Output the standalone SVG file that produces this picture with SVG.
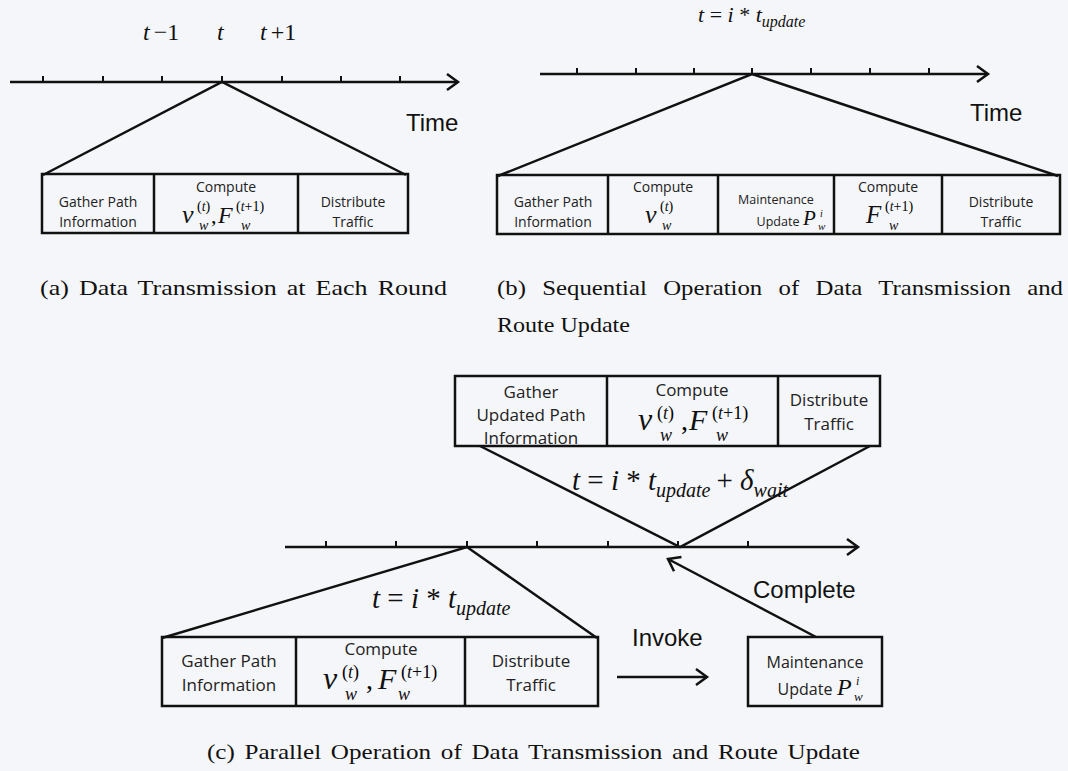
<svg xmlns="http://www.w3.org/2000/svg" width="1068" height="771" viewBox="0 0 1068 771">
  <style>
    .ln { stroke: #111; stroke-width: 2.5; fill: none; }
    .tk { stroke: #111; stroke-width: 2; }
    .box { fill: none; stroke: #111; stroke-width: 2.5; }
    .lbl { font-family: "Open Sans", "Noto Sans", sans-serif; fill: #222; text-anchor: middle; }
    .sans { font-family: "Liberation Sans", Arial, sans-serif; fill: #111; }
    .mi { font-family: "Liberation Serif", "Times New Roman", serif; font-style: italic; fill: #111; }
    .mr { font-family: "Liberation Serif", "Times New Roman", serif; font-style: normal; }
    .cap { font-family: "Liberation Serif", "Times New Roman", serif; fill: #111; font-size: 22px; }
  </style>
  <defs>
    <marker id="chev" markerUnits="userSpaceOnUse" markerWidth="16" markerHeight="20" refX="13" refY="10" orient="auto">
      <path d="M2,2 L13,10 L2,18" fill="none" stroke="#111" stroke-width="2.5"/>
    </marker>
  </defs>
  <rect width="1068" height="771" fill="#f5f6f9"/>

  <!-- connectors: time axes, zoom-out lines and flow arrows -->
  <g id="connectors">
    <!-- (a) axis -->
    <line class="ln" x1="10" y1="82" x2="458" y2="82" marker-end="url(#chev)"/>
    <path class="tk" d="M43,76V82 M103,76V82 M162,76V82 M222,76V82 M282,76V82 M341,76V82 M400,76V82"/>
    <polyline class="ln" points="43,175 222,82 406,175"/>
    <!-- (b) axis -->
    <line class="ln" x1="540" y1="74" x2="988" y2="74" marker-end="url(#chev)"/>
    <path class="tk" d="M577,68V74 M636,68V74 M694,68V74 M752,68V74 M811,68V74 M870,68V74 M929,68V74"/>
    <polyline class="ln" points="498,176 752,74 1058,176"/>
    <!-- (c) axis -->
    <line class="ln" x1="285" y1="547" x2="858" y2="547" marker-end="url(#chev)"/>
    <path class="tk" d="M326,541V547 M396,541V547 M467,541V547 M537,541V547 M608,541V547 M678,541V547 M748,541V547"/>
    <polyline class="ln" points="480,446 680,547 870,446"/>
    <polyline class="ln" points="162,638 467,547 597,638"/>
    <!-- invoke / complete -->
    <line class="ln" x1="617" y1="677" x2="707" y2="677" marker-end="url(#chev)"/>
    <line class="ln" x1="816" y1="637" x2="668" y2="559" marker-end="url(#chev)"/>
  </g>

  <!-- (a) time labels -->
  <g id="a-labels">
    <text class="mi" x="143" y="40" font-size="24">t<tspan class="mr" dx="4">−1</tspan></text>
    <text class="mi" x="217" y="40" font-size="24">t</text>
    <text class="mi" x="260" y="40" font-size="24">t<tspan class="mr" dx="4">+1</tspan></text>
    <text class="sans" x="406" y="131" font-size="24">Time</text>
  </g>

  <!-- (a) round stages -->
  <g id="a-stages">
    <rect class="box" x="42" y="174" width="366" height="59"/>
    <line class="box" x1="154" y1="174" x2="154" y2="233"/>
    <line class="box" x1="298" y1="174" x2="298" y2="233"/>
    <text class="lbl" font-size="14" x="98" y="207">Gather Path</text>
    <text class="lbl" font-size="14" x="98" y="227">Information</text>
    <text class="lbl" font-size="14" x="226" y="192">Compute</text>
    <text class="mi" x="182" y="223" font-size="26">ν</text>
    <text class="mr" x="197" y="211" font-size="14">(<tspan class="mi">t</tspan>)</text>
    <text class="mi" x="199" y="230" font-size="14">w</text>
    <text class="mr" x="211" y="223" font-size="22">,</text>
    <text class="mi" x="218" y="223" font-size="24">F</text>
    <text class="mr" x="236" y="211" font-size="14">(<tspan class="mi">t</tspan>+1)</text>
    <text class="mi" x="241" y="230" font-size="14">w</text>
    <text class="lbl" font-size="14" x="353" y="207">Distribute</text>
    <text class="lbl" font-size="14" x="353" y="227">Traffic</text>
  </g>

  <!-- (b) time labels -->
  <g id="b-labels">
    <text class="mi" x="698" y="22" font-size="22">t <tspan class="mr">=</tspan> i <tspan class="mr">*</tspan> t<tspan font-size="16" dy="5">update</tspan></text>
    <text class="sans" x="970" y="121" font-size="24">Time</text>
  </g>

  <!-- (b) sequential stages -->
  <g id="b-stages">
    <rect class="box" x="497" y="175" width="563" height="59"/>
    <line class="box" x1="608" y1="175" x2="608" y2="234"/>
    <line class="box" x1="718" y1="175" x2="718" y2="234"/>
    <line class="box" x1="834" y1="175" x2="834" y2="234"/>
    <line class="box" x1="942" y1="175" x2="942" y2="234"/>
    <text class="lbl" font-size="14" x="553" y="207">Gather Path</text>
    <text class="lbl" font-size="14" x="553" y="227">Information</text>
    <text class="lbl" font-size="14" x="663" y="192">Compute</text>
    <text class="mi" x="645" y="223" font-size="26">ν</text>
    <text class="mr" x="660" y="211" font-size="14">(<tspan class="mi">t</tspan>)</text>
    <text class="mi" x="662" y="230" font-size="14">w</text>
    <text class="lbl" font-size="12.5" x="776" y="204">Maintenance</text>
    <text class="lbl" font-size="12.5" x="778" y="226">Update</text>
    <text class="mi" x="803" y="225" font-size="21">P</text>
    <text class="mi" x="820" y="217" font-size="10">i</text>
    <text class="mi" x="818" y="230" font-size="11">w</text>
    <text class="lbl" font-size="14" x="888" y="192">Compute</text>
    <text class="mi" x="866" y="223" font-size="25">F</text>
    <text class="mr" x="885" y="211" font-size="14">(<tspan class="mi">t</tspan>+1)</text>
    <text class="mi" x="889" y="230" font-size="14">w</text>
    <text class="lbl" font-size="14" x="1001" y="207">Distribute</text>
    <text class="lbl" font-size="14" x="1001" y="227">Traffic</text>
  </g>

  <!-- captions (a) and (b) -->
  <g id="captions-ab">
    <text class="cap" x="40" y="295" word-spacing="3" textLength="407" lengthAdjust="spacingAndGlyphs">(a) Data Transmission at Each Round</text>
    <text class="cap" x="497" y="295" word-spacing="9" textLength="566" lengthAdjust="spacingAndGlyphs">(b) Sequential Operation of Data Transmission and</text>
    <text class="cap" x="497" y="332" textLength="133" lengthAdjust="spacingAndGlyphs">Route Update</text>
  </g>

  <!-- (c) delayed round stages -->
  <g id="c-top-stages">
    <rect class="box" x="455" y="376" width="425" height="70"/>
    <line class="box" x1="607" y1="376" x2="607" y2="446"/>
    <line class="box" x1="778" y1="376" x2="778" y2="446"/>
    <text class="lbl" font-size="17" x="531" y="398">Gather</text>
    <text class="lbl" font-size="17" x="531" y="421">Updated Path</text>
    <text class="lbl" font-size="17" x="531" y="444">Information</text>
    <text class="lbl" font-size="17" x="692" y="396">Compute</text>
    <text class="mi" x="638" y="430" font-size="32">ν</text>
    <text class="mr" x="657" y="419" font-size="18">(<tspan class="mi">t</tspan>)</text>
    <text class="mi" x="660" y="441" font-size="18">w</text>
    <text class="mr" x="681" y="430" font-size="28">,</text>
    <text class="mi" x="689" y="430" font-size="30">F</text>
    <text class="mr" x="712" y="419" font-size="18">(<tspan class="mi">t</tspan>+1)</text>
    <text class="mi" x="716" y="441" font-size="18">w</text>
    <text class="lbl" font-size="17" x="829" y="406">Distribute</text>
    <text class="lbl" font-size="17" x="829" y="430">Traffic</text>
  </g>

  <!-- (c) time labels -->
  <g id="c-labels">
    <text class="mi" x="572" y="490" font-size="29">t <tspan class="mr">=</tspan> i <tspan class="mr">*</tspan> t<tspan font-size="20" dy="7">update</tspan><tspan class="mr" dy="-7" dx="6">+</tspan> δ<tspan font-size="20" dy="7">wait</tspan></text>
    <text class="mi" x="372" y="608" font-size="29">t <tspan class="mr">=</tspan> i <tspan class="mr">*</tspan> t<tspan font-size="20" dy="7">update</tspan></text>
    <text class="sans" x="753" y="598" font-size="24">Complete</text>
    <text class="sans" x="632" y="646" font-size="24">Invoke</text>
  </g>

  <!-- (c) round stages -->
  <g id="c-bottom-stages">
    <rect class="box" x="162" y="637" width="436" height="69"/>
    <line class="box" x1="296" y1="637" x2="296" y2="706"/>
    <line class="box" x1="465" y1="637" x2="465" y2="706"/>
    <text class="lbl" font-size="17" x="229" y="667">Gather Path</text>
    <text class="lbl" font-size="17" x="229" y="691">Information</text>
    <text class="lbl" font-size="17" x="381" y="655">Compute</text>
    <text class="mi" x="323" y="689" font-size="32">ν</text>
    <text class="mr" x="342" y="678" font-size="18">(<tspan class="mi">t</tspan>)</text>
    <text class="mi" x="345" y="700" font-size="18">w</text>
    <text class="mr" x="366" y="689" font-size="28">,</text>
    <text class="mi" x="378" y="689" font-size="30">F</text>
    <text class="mr" x="401" y="678" font-size="18">(<tspan class="mi">t</tspan>+1)</text>
    <text class="mi" x="398" y="700" font-size="18">w</text>
    <text class="lbl" font-size="17" x="531" y="667">Distribute</text>
    <text class="lbl" font-size="17" x="531" y="691">Traffic</text>
  </g>

  <!-- (c) route maintenance -->
  <g id="c-maintenance">
    <rect class="box" x="748" y="637" width="134" height="69"/>
    <text class="lbl" font-size="16" x="815" y="668">Maintenance</text>
    <text class="lbl" font-size="16" x="805" y="695">Update</text>
    <text class="mi" x="837" y="695" font-size="24">P</text>
    <text class="mi" x="856" y="685" font-size="12">i</text>
    <text class="mi" x="854" y="701" font-size="13">w</text>
  </g>

  <!-- caption (c) -->
  <g id="caption-c">
    <text class="cap" x="207" y="759" word-spacing="3" textLength="653" lengthAdjust="spacingAndGlyphs">(c) Parallel Operation of Data Transmission and Route Update</text>
  </g>
</svg>
